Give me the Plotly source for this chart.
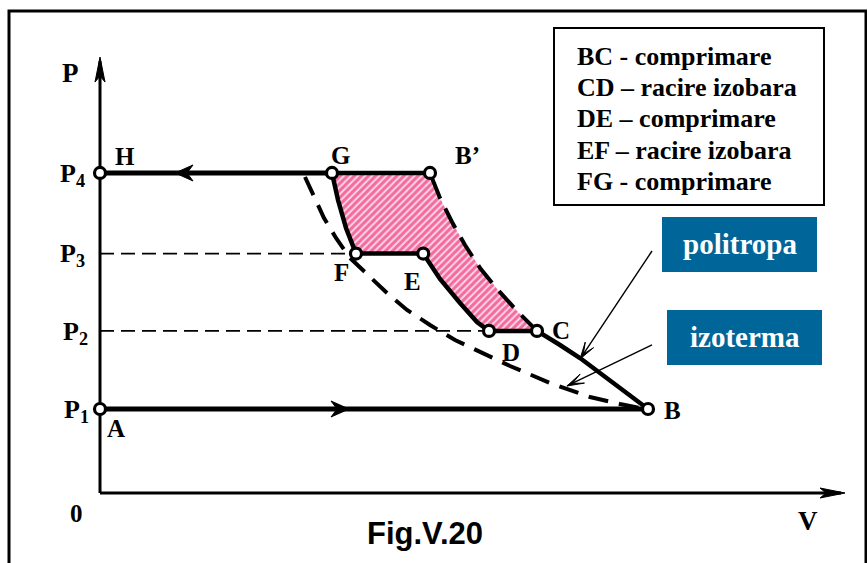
import math
import plotly.graph_objects as go

# ---------------- data (V, P in arbitrary units) ----------------
P_levels = [1.0, 1.93, 2.85, 3.81]
P_labels = ["P<sub>1</sub>", "P<sub>2</sub>", "P<sub>3</sub>", "P<sub>4</sub>"]
P_label_V = [-0.29, -0.31, -0.34, -0.34]

point_names = ["H", "A", "B", "G", "B’", "F", "E", "D", "C"]
point_V = [0.0, 0.0, 6.85, 2.9, 4.125, 3.2, 4.04, 4.8625, 5.4625]
point_P = [3.81, 1.0, 1.0, 3.81, 3.81, 2.85, 2.85, 1.93, 1.93]
label_V = [0.31, 0.20, 7.16, 3.00, 4.59, 3.02, 3.90, 5.14, 5.76]
label_P = [4.01, 0.77, 0.98, 4.02, 4.02, 2.63, 2.52, 1.67, 1.94]

# polytrope B -> C (solid)
poly_solid_V = [6.85, 6.5625, 6.3375, 6.0, 5.75, 5.4625]
poly_solid_P = [1.0, 1.202, 1.357, 1.607, 1.762, 1.93]
# polytrope C -> B' (dashed)
poly_dash_V = [5.4625, 5.2125, 4.975, 4.75, 4.5625, 4.4, 4.25, 4.125]
poly_dash_P = [1.93, 2.167, 2.417, 2.679, 2.952, 3.226, 3.512, 3.81]
# isotherm (dashed)
iso_V = [2.5625, 2.6625, 2.8, 2.95, 3.125, 3.3375, 3.5875, 3.8375, 4.125,
         4.4375, 4.75, 5.125, 5.625, 6.125, 6.5, 6.8125]
iso_P = [3.762, 3.548, 3.274, 3.036, 2.798, 2.607, 2.381, 2.179, 2.0,
         1.821, 1.679, 1.512, 1.310, 1.143, 1.060, 1.0]
# compression F -> G and E -> D
fg_V = [3.2, 3.075, 2.975, 2.9]
fg_P = [2.85, 3.155, 3.488, 3.81]
ed_V = [4.04, 4.25, 4.5, 4.7125, 4.8625]
ed_P = [2.85, 2.548, 2.262, 2.036, 1.93]

legend_lines = ["BC - comprimare", "CD – racire izobara", "DE – comprimare",
                "EF – racire izobara", "FG - comprimare"]
legend_line_P = [5.20, 4.83, 4.46, 4.08, 3.71]
legend_text_V = 5.94
legend_box = [5.675, 3.429, 9.05, 5.536]

callout_texts = ["politropa", "izoterma"]
callout_boxes = [[7.025, 2.631, 8.9625, 3.286], [7.0875, 1.524, 9.025, 2.179]]
callout_tail = [(6.9, 2.881), (6.9, 1.762)]
callout_tip = [(6.0, 1.595), (5.8375, 1.274)]

flow_arrow_tip = [(0.9375, 3.81, -1), (3.1125, 1.0, 1)]   # (V, P, direction)
axis_V_end = 9.3125
axis_P_end = 5.19

# ---------------- layout geometry ----------------
W, H = 867, 563
XR = [-1.25, 9.5875]
YR = [-0.8333, 5.869]
PXV = W / (XR[1] - XR[0])   # px per V unit
PXP = H / (YR[1] - YR[0])   # px per P unit

SERIF = "Liberation Serif, Times New Roman, serif"
BLUE = "#00669a"

fig = go.Figure()

def line(x, y, width=4.5, dash="solid", color="black"):
    fig.add_trace(go.Scatter(x=x, y=y, mode="lines",
                             line=dict(color=color, width=width, dash=dash),
                             hoverinfo="skip"))

def head(tv, tp, dx, dy, length, half, notch, lw=1):
    # arrowhead polygon (pixel sizes) at tip (tv,tp); (dx,dy) unit direction, y up
    px = -dy; py = dx
    pts = [(0, 0),
           (-dx * length + px * half, -dy * length + py * half),
           (-dx * (length - notch), -dy * (length - notch)),
           (-dx * length - px * half, -dy * length - py * half),
           (0, 0)]
    xs = [tv + a / PXV for a, b in pts]
    ys = [tp + b / PXP for a, b in pts]
    fig.add_trace(go.Scatter(x=xs, y=ys, mode="lines", fill="toself",
                             fillcolor="black", line=dict(color="black", width=lw),
                             hoverinfo="skip"))

# hatched work area
area_V = [point_V[3], point_V[4]] + poly_dash_V[::-1] + [point_V[7]] + ed_V[::-1] + [point_V[5]] + fg_V
area_P = [point_P[3], point_P[4]] + poly_dash_P[::-1] + [point_P[7]] + ed_P[::-1] + [point_P[5]] + fg_P
fig.add_trace(go.Scatter(x=area_V, y=area_P, mode="lines", fill="toself",
                         fillcolor="#ffd0e0",
                         fillpattern=dict(shape="/", fgcolor="#e6005c", bgcolor="#ffd6e4",
                                          size=5, solidity=0.6),
                         line=dict(width=0), hoverinfo="skip"))

# thin dashed pressure guides
line([0, point_V[5]], [P_levels[2], P_levels[2]], width=1.6, dash="14px,7px")
line([0, point_V[7]], [P_levels[1], P_levels[1]], width=1.6, dash="14px,7px")

# isotherm and dashed polytrope
line(iso_V, iso_P, width=4, dash="20px,11px")
line(poly_dash_V, poly_dash_P, width=4, dash="22px,11px")

# axes
line([0, 0], [0, axis_P_end - 0.05], width=3)
line([0, axis_V_end - 0.05], [0, 0], width=3)
head(0, axis_P_end, 0, 1, 25, 5, 6)
head(axis_V_end, 0, 1, 0, 25, 5, 6)

# isobars
line([point_V[0], point_V[3]], [P_levels[3], P_levels[3]], width=5)
line([point_V[3], point_V[4]], [P_levels[3], P_levels[3]], width=4.5)
line([point_V[1], point_V[2]], [P_levels[0], P_levels[0]], width=5)
line([point_V[5], point_V[6]], [P_levels[2], P_levels[2]], width=4.5)
line([point_V[7], point_V[8]], [P_levels[1], P_levels[1]], width=4.5)
for tv, tp, d in flow_arrow_tip:
    head(tv, tp, d, 0, 18, 8, 6)

# compression curves
line(poly_solid_V, poly_solid_P, width=4.5)
line(fg_V, fg_P, width=4.5)
line(ed_V, ed_P, width=4.5)

# callout arrows
for (tx, ty), (hx, hy) in zip(callout_tail, callout_tip):
    line([tx, hx], [ty, hy], width=1.4)
    ddx = (hx - tx) * PXV
    ddy = (hy - ty) * PXP
    n = math.hypot(ddx, ddy)
    head(hx, hy, ddx / n, ddy / n, 17, 5, 11, lw=1)

# state points
fig.add_trace(go.Scatter(x=point_V, y=point_P, mode="markers",
                         marker=dict(size=11, color="white",
                                     line=dict(color="black", width=3.2)),
                         hoverinfo="skip"))

ann = []
def txt(x, y, s, size=26, family=SERIF, color="black", xanchor="center"):
    ann.append(dict(x=x, y=y, xref="x", yref="y", text="<b>" + s + "</b>",
                    showarrow=False, xanchor=xanchor, yanchor="middle",
                    font=dict(family=family, size=size, color=color)))

for n_, x, y in zip(point_names, label_V, label_P):
    txt(x, y, n_, size=25)
for s, x, y in zip(P_labels, P_label_V, P_levels):
    txt(x, y - 0.02, s, size=26)
txt(-0.375, 5.0, "P", size=27)
txt(8.85, -0.33, "V", size=27)
txt(-0.29, -0.24, "0", size=25)
txt(4.06, -0.48, "Fig.V.20", size=31,
    family="Liberation Sans, Arial, sans-serif")

for s, y in zip(legend_lines, legend_line_P):
    txt(legend_text_V, y, s, size=26, xanchor="left")

shapes = [
    dict(type="rect", xref="paper", yref="paper", x0=9 / W, x1=866 / W,
         y0=-0.05, y1=1 - 11 / H, line=dict(color="black", width=3)),
    dict(type="rect", xref="x", yref="y", x0=legend_box[0], y0=legend_box[1],
         x1=legend_box[2], y1=legend_box[3], line=dict(color="black", width=2),
         fillcolor="white", layer="below"),
]
for (x0, y0, x1, y1), s in zip(callout_boxes, callout_texts):
    shapes.append(dict(type="rect", xref="x", yref="y", x0=x0, y0=y0, x1=x1, y1=y1,
                       line=dict(width=0), fillcolor=BLUE, layer="below"))
    txt((x0 + x1) / 2, (y0 + y1) / 2, s, size=29, color="white")

fig.update_layout(
    width=W, height=H, margin=dict(l=0, r=0, t=0, b=0),
    paper_bgcolor="white", plot_bgcolor="rgba(0,0,0,0)", showlegend=False,
    xaxis=dict(range=XR, visible=False, fixedrange=True),
    yaxis=dict(range=YR, visible=False, fixedrange=True),
    shapes=shapes, annotations=ann,
)

fig.write_html("out.html", config={"displayModeBar": False},
               post_script="document.body.style.margin='0';document.body.style.overflow='hidden';")
